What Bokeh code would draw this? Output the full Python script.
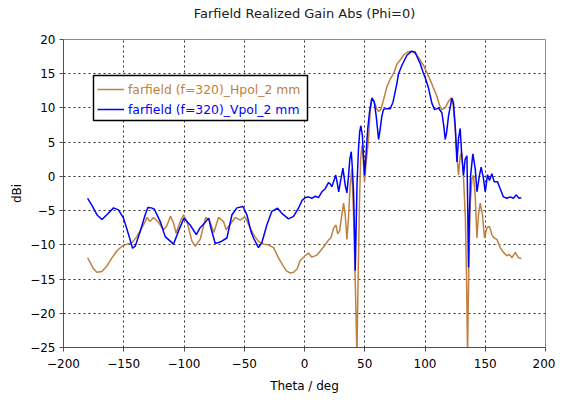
from bokeh.plotting import figure
from bokeh.models import (ColumnDataSource, Legend, LegendItem, BoxAnnotation,
                          FixedTicker, Range1d, LinearAxis, Title)
from bokeh.embed import file_html
from bokeh.resources import INLINE

# ---------------- data ----------------
hpol_theta = [-180, -177.8, -175.1, -172.3, -168.1, -164, -161.2, -159.8, -155.7, -151.5,
              -147.4, -143.2, -139.1, -134.9, -132.2, -130.5, -128.3, -125.3, -121.2, -117,
              -114.2, -111.2, -108.7, -106.5, -103.2, -100.4, -97.6, -93.4, -90.7, -86.6,
              -82, -79, -75.2, -71.4, -67.2, -65, -61.7, -57.5, -53.4, -49.5,
              -46.5, -42.3, -38.2, -34, -29.9, -25.7, -21.6, -18, -15, -12,
              -9, -6, -3.6, 0.6, 3.3, 6.1, 10.3, 13.6, 17.2, 19.9,
              21.9, 24.1, 26.1, 27.6, 29.1, 31.0, 32.4, 33.8, 35.2, 36.5,
              37.9, 39.3, 40.7, 42.1, 43.5, 44.6, 45.6, 46.6, 47.6, 48.6,
              49.8, 51.2, 53.1, 54.5, 55.9, 57.3, 58.7, 60.0, 61.4, 63.4,
              65.6, 68.4, 71.1, 73.9, 76.7, 79.4, 82.2, 85, 87.7, 90.5,
              93.3, 96, 98.8, 101.5, 104.3, 107, 109.9, 112, 114, 116.8,
              119.5, 121.7, 123.3, 125.1, 126.5, 127.8, 129.2, 130.5, 132, 133.5,
              134.5, 135.3, 136.3, 137.5, 139, 140.3, 141.7, 143.1, 144.4, 145.8,
              147.7, 149.4, 151.4, 153.5, 155.5, 157.4, 159.7, 162.4, 165.1, 168,
              170.1, 172.1, 174.9, 177.6, 180]
hpol_db = [-11.9, -12.6, -13.5, -14.0, -13.9, -13.1, -12.3, -11.9, -10.9, -10.2,
           -9.9, -9.7, -8.8, -7.5, -6.6, -6.0, -6.6, -6.0, -6.7, -7.8,
           -7.2, -5.8, -6.8, -8.3, -6.6, -5.6, -6.6, -9.45, -10.2, -9.2,
           -6.0, -6.4, -8.2, -6.0, -6.6, -7.8, -7.0, -6.0, -6.4, -5.9,
           -7.0, -8.5, -9.5, -9.9, -10.0, -10.4, -11.9, -13.0, -13.8, -14.1,
           -14.0, -13.5, -12.3, -11.6, -11.2, -11.8, -11.5, -10.8, -10.0, -9.3,
           -9.0, -7.6, -7.1, -8.4, -8.0, -5.6, -3.9, -5.6, -9.2, -6.1,
           -1.3, 1.1, -5.6, -15.2, -26, -14, -4, 2.5, 4.5, 3,
           -0.8, 2.1, 5.4, 9.5, 11.45, 11.0, 10.5, 9.8, 9.5, 9.8,
           11.2, 13.1, 14.2, 15.0, 16.4, 17.0, 17.7, 18.1, 18.3, 18.1,
           17.7, 17.0, 16.2, 15.2, 14.1, 12.9, 11.7, 10.4, 9.75, 10.0,
           10.95, 11.45, 10.5, 6.9, 3.0, 0.2, 3.0, 3.5, -0.3, -6,
           -15, -26, -14, -4, -0.3, 0.15, -3, -9.0, -5.6, -3.9,
           -5.6, -9.0, -7.5, -7.3, -8.5, -9.0, -9.2, -10.4, -11.1, -11.6,
           -11.4, -11.9, -11.1, -11.9, -12.0]

vpol_theta = [-180, -176.5, -172.3, -168.1, -164, -158.5, -154.4, -150.2, -146, -142.7,
              -140.5, -136.3, -132.2, -130, -127, -124.6, -119.7, -115.6, -108.7, -104.6,
              -100.1, -97, -94.9, -89.8, -86.6, -83.8, -79.5, -77.7, -74.1, -70,
              -64.4, -60.2, -56.1, -51.1, -47.8, -44.5, -42.3, -38.2, -35.4, -31.2,
              -27.1, -22.4, -18.8, -13.3, -9.1, -5.0, -2, 0.6, 3.3, 6.1,
              8.9, 11.6, 14.4, 17.2, 19.9, 21.3, 22.7, 24.1, 25.9, 27.2,
              28.4, 29.6, 31.9, 33.8, 35.2, 36.5, 37.6, 38.8, 39.8, 40.7,
              41.5, 42.1, 42.8, 43.6, 44.8, 45.8, 46.8, 48, 49.8, 51.0,
              52.5, 53.9, 55.9, 57.8, 59.5, 61.5, 62.8, 64.2, 65.6, 68.4,
              71.1, 73.4, 76.7, 78, 80.8, 85, 89, 91.9, 94.6, 96,
              98.8, 100.2, 102.9, 105.7, 107.9, 110, 111.2, 114, 115.5, 116.8,
              118, 119.5, 122.3, 123.6, 125.1, 126.5, 127.8, 129.2, 130.5, 132,
              133.3, 134.8, 135.5, 136.1, 136.8, 137.8, 139.7, 141.7, 143.1, 145.2,
              146.6, 148.5, 150, 151.9, 153.5, 155.5, 157.4, 160.2, 162.4, 165.1,
              168, 170.7, 173.4, 175.7, 178, 180]
vpol_db = [-3.2, -4.2, -5.6, -6.3, -5.6, -4.6, -4.9, -6.1, -8.5, -10.5,
           -10.2, -8.0, -5.6, -4.55, -4.6, -4.8, -6.6, -8.8, -9.9, -8.0,
           -6.1, -6.7, -7.1, -8.5, -7.5, -7.0, -6.1, -7.5, -9.8, -9.6,
           -9.0, -5.6, -4.6, -4.4, -5.6, -8.0, -9.0, -10.4, -9.7, -7.06,
           -5.1, -4.65, -5.4, -6.2, -5.85, -4.65, -3.5, -3.1, -3.0, -3.2,
           -2.9, -3.1, -2.25, -1.8, -0.9, -1.1, -1.5, -0.8, 0.2, -1.0,
           -2.25, -1.0, 1.2, -1.3, -2.4, 0, 2.5, 3.6, 1.0, -2.25,
           -8, -13.8, -8, -1, 4.0, 6.5, 7.4, 6, 0.15, 3,
           7, 9.3, 11.45, 10.95, 8.8, 5.4, 6.9, 8.8, 9.8, 9.9,
           9.9, 10.8, 13.6, 15.0, 16.2, 17.7, 18.3, 18.15, 17.0, 16.5,
           15.0, 14.4, 12.9, 10.7, 9.75, 9.9, 10.0, 9.3, 7.5, 5.4,
           6.5, 8.8, 11.45, 10.8, 7.35, 2.1, 5.5, 7.0, 3, 0.15,
           2.5, 3.0, -5, -13.3, -6, 0, 3.3, 1.1, -2.25, 0.15,
           1.35, -0.3, -2.25, 0.25, -0.6, 0.4, -0.8, -0.8, -1.8, -3.0,
           -3.2, -3.0, -3.2, -2.7, -3.2, -3.1]

title_text = "Farfield Realized Gain Abs (Phi=0)"
series_labels = ["farfield (f=320)_Hpol_2 mm", "farfield (f=320)_Vpol_2 mm"]
series_colors = ["#C08040", "#0000FF"]
x_ticks = [-200, -150, -100, -50, 0, 50, 100, 150, 200]
y_ticks = [-25, -20, -15, -10, -5, 0, 5, 10, 15, 20]

FONT = "DejaVu Sans"

p = figure(width=555, height=395, output_backend="svg", toolbar_location=None,
           x_range=Range1d(-200, 200), y_range=Range1d(-25, 20),
           min_border_left=63, min_border_right=10, min_border_top=39,
           min_border_bottom=44, title=None)

xax = p.below[0]
yax = p.left[0]

# blank band between the plot frame and the title (no line, no tick, no label drawn)
spacer = LinearAxis(ticker=FixedTicker(ticks=[0]), major_label_overrides={0: ""},
                    major_label_text_font_size="0px", major_tick_out=18, major_tick_in=0,
                    minor_tick_out=0, minor_tick_in=0, major_label_standoff=0,
                    axis_line_alpha=0, major_tick_line_alpha=0, minor_tick_line_alpha=0)
p.add_layout(spacer, "above")

title = Title(text=title_text, align="center", vertical_align="bottom", standoff=2,
              text_font=FONT, text_font_size="13px", text_font_style="normal",
              text_color="#202020")
p.add_layout(title, "above")

p.background_fill_color = "white"
p.border_fill_color = "white"
p.outline_line_color = "#8c8c8c"
p.outline_line_width = 1

for ax in (xax, yax):
    ax.major_label_text_font = FONT
    ax.major_label_text_font_size = "12px"
    ax.major_label_text_color = "#000000"
    ax.axis_label_text_font = FONT
    ax.axis_label_text_font_size = "12px"
    ax.axis_label_text_font_style = "normal"
    ax.axis_label_text_color = "#000000"
    ax.major_tick_in = 0
    ax.major_tick_out = 4
    ax.minor_tick_in = 0
    ax.minor_tick_out = 0
    ax.axis_line_color = "#505050"
    ax.major_tick_line_color = "#505050"

xax.ticker = FixedTicker(ticks=x_ticks)
yax.ticker = FixedTicker(ticks=y_ticks)
xax.axis_label = "Theta / deg"
yax.axis_label = "dBi"
xax.major_label_standoff = 7
yax.major_label_standoff = 4
xax.axis_label_standoff = 8
xax.axis_label_text_line_height = 0.7
yax.axis_label_standoff = 3

for g in (p.xgrid, p.ygrid):
    g.grid_line_color = "#303030"
    g.grid_line_dash = "2 3"
    g.grid_line_width = 1

src_h = ColumnDataSource(dict(theta=hpol_theta, db=hpol_db))
src_v = ColumnDataSource(dict(theta=vpol_theta, db=vpol_db))
r_h = p.line("theta", "db", source=src_h, line_color=series_colors[0], line_width=1.5)
r_v = p.line("theta", "db", source=src_v, line_color=series_colors[1], line_width=1.5)

# legend frame (screen units, frame-relative)
box = BoxAnnotation(left=30, right=244, bottom=227, top=272,
                    left_units="screen", right_units="screen",
                    top_units="screen", bottom_units="screen",
                    fill_color="white", fill_alpha=1.0,
                    line_color="#000000", line_width=1.5, line_alpha=1.0)
p.add_layout(box)

def make_legend(label, renderer, color, loc):
    return Legend(items=[LegendItem(label=label, renderers=[renderer])],
                  location=loc, padding=0, margin=0, spacing=0,
                  border_line_alpha=0, background_fill_alpha=0,
                  glyph_width=27, glyph_height=20, label_height=20,
                  label_standoff=4, label_text_font=FONT,
                  label_text_font_size="12.4px", label_text_color=color)

p.add_layout(make_legend(series_labels[0], r_h, series_colors[0], (34, 248)))
p.add_layout(make_legend(series_labels[1], r_v, series_colors[1], (34, 228)))

open("out.html", "w").write(file_html(p, INLINE))
